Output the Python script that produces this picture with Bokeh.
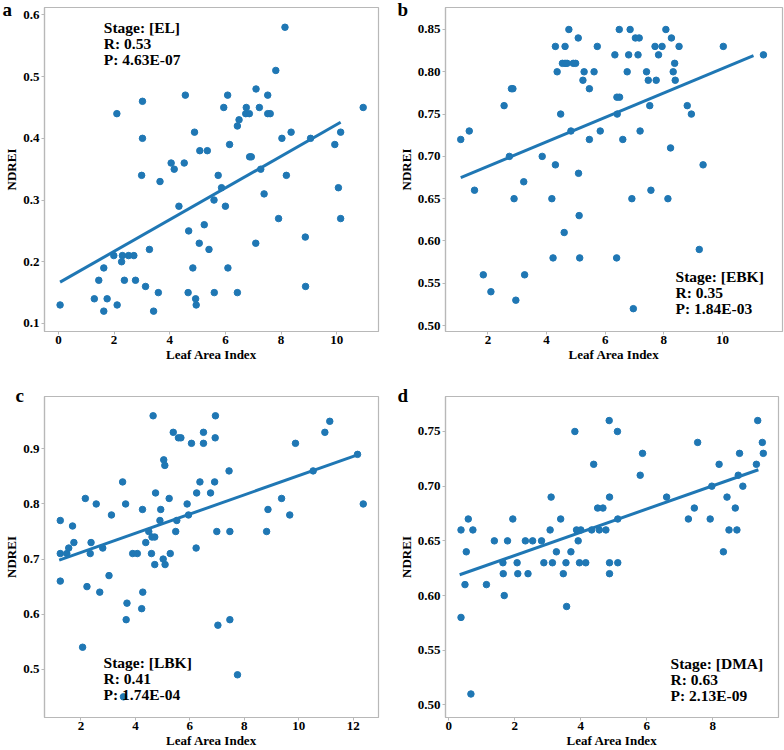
from bokeh.plotting import figure
from bokeh.layouts import column, row
from bokeh.models import Range1d, FixedTicker, Label, Title
from bokeh.embed import file_html
from bokeh.resources import INLINE

# ---------------- data ----------------
# Panel a: Stage EL
a_lai = [0.06, 1.29, 1.45, 1.63, 1.63, 1.75, 1.99, 2.10, 2.11, 2.27, 2.30, 2.37, 2.52, 2.71,
         2.77, 2.99, 3.02, 3.02, 3.13, 3.27, 3.42, 3.59, 3.65, 4.05, 4.16, 4.33, 4.52, 4.56,
         4.66, 4.68, 4.83, 4.89, 4.93, 4.95, 5.06, 5.08, 5.24, 5.35, 5.41, 5.59, 5.60, 5.74,
         5.86, 5.94, 6.00, 6.08, 6.09, 6.15, 6.43, 6.43, 6.49, 6.75, 6.73, 6.86, 6.87, 6.93,
         7.10, 7.09, 7.22, 7.27, 7.39, 7.52, 7.52, 7.61, 7.81, 7.91, 8.03, 8.14, 8.19, 8.36,
         8.87, 8.88, 9.06, 9.93, 10.06, 10.14, 10.14, 10.95]
a_ndrei = [0.13, 0.14, 0.17, 0.19, 0.12, 0.14, 0.21, 0.44, 0.13, 0.20, 0.21, 0.17, 0.21, 0.21,
           0.17, 0.34, 0.46, 0.40, 0.16, 0.22, 0.12, 0.15, 0.33, 0.36, 0.35, 0.29, 0.36, 0.47,
           0.15, 0.25, 0.19, 0.41, 0.14, 0.13, 0.23, 0.38, 0.26, 0.38, 0.22, 0.30, 0.15, 0.34,
           0.32, 0.45, 0.29, 0.47, 0.19, 0.39, 0.42, 0.15, 0.43, 0.45, 0.44, 0.44, 0.37, 0.37,
           0.48, 0.23, 0.45, 0.35, 0.31, 0.47, 0.44, 0.44, 0.51, 0.27, 0.40, 0.58, 0.34, 0.41,
           0.24, 0.16, 0.40, 0.39, 0.32, 0.41, 0.27, 0.45]
a_fit_x = [0.06, 10.14]
a_fit_y = [0.167, 0.426]

# Panel b: Stage EBK
b_lai = [1.07, 1.36, 1.54, 1.84, 2.10, 2.55, 2.73, 2.80, 2.85, 2.89, 2.95, 3.22, 3.25, 3.85,
         4.18, 4.22, 4.30, 4.30, 4.36, 4.48, 4.54, 4.60, 4.63, 4.63, 4.70, 4.76, 4.83, 4.91,
         4.99, 5.08, 5.09, 5.11, 5.13, 5.24, 5.28, 5.46, 5.46, 5.62, 5.73, 5.83, 6.33, 6.39,
         6.41, 6.40, 6.49, 6.48, 6.60, 6.75, 6.80, 6.85, 6.91, 6.96, 7.03, 7.12, 7.16, 7.19,
         7.41, 7.47, 7.52, 7.56, 7.70, 7.74, 7.82, 7.94, 8.07, 8.14, 8.23, 8.26, 8.32, 8.37,
         8.39, 8.52, 8.80, 8.94, 9.21, 9.34, 10.03, 11.40]
b_ndrei = [0.72, 0.73, 0.66, 0.56, 0.54, 0.76, 0.70, 0.78, 0.78, 0.65, 0.53, 0.67, 0.56, 0.70,
           0.65, 0.58, 0.69, 0.83, 0.80, 0.75, 0.81, 0.61, 0.83, 0.81, 0.81, 0.85, 0.73, 0.81,
           0.81, 0.84, 0.68, 0.63, 0.58, 0.79, 0.80, 0.78, 0.72, 0.80, 0.83, 0.73, 0.82, 0.58,
           0.75, 0.77, 0.77, 0.85, 0.72, 0.80, 0.82, 0.85, 0.65, 0.52, 0.84, 0.82, 0.84, 0.73,
           0.80, 0.79, 0.76, 0.66, 0.83, 0.79, 0.82, 0.83, 0.85, 0.65, 0.71, 0.84, 0.80, 0.81,
           0.79, 0.83, 0.76, 0.75, 0.59, 0.69, 0.83, 0.82]
b_fit_x = [1.07, 11.06]
b_fit_y = [0.675, 0.819]

# Panel c: Stage LBK
c_lai = [1.24, 1.24, 1.24, 1.48, 1.55, 1.69, 1.74, 2.06, 2.16, 2.22, 2.34, 2.37, 2.56, 2.69,
         2.80, 3.03, 3.12, 3.53, 3.56, 3.64, 3.66, 3.69, 3.90, 4.07, 4.23, 4.26, 4.27, 4.38,
         4.49, 4.59, 4.61, 4.65, 4.71, 4.71, 4.74, 4.90, 4.93, 5.02, 5.04, 5.08, 5.09, 5.24,
         5.28, 5.39, 5.48, 5.52, 5.58, 5.67, 5.90, 5.95, 6.06, 6.23, 6.25, 6.37, 6.50, 6.50,
         6.76, 6.91, 6.94, 6.93, 6.99, 7.03, 7.44, 7.47, 7.47, 7.75, 8.82, 8.87, 9.37, 9.67,
         9.88, 10.53, 10.96, 11.14, 12.16, 12.37]
c_ndrei = [0.77, 0.71, 0.66, 0.71, 0.72, 0.76, 0.73, 0.54, 0.81, 0.65, 0.71, 0.73, 0.80, 0.64,
           0.72, 0.67, 0.78, 0.84, 0.45, 0.80, 0.59, 0.62, 0.71, 0.71, 0.61, 0.79, 0.64, 0.73,
           0.75, 0.71, 0.74, 0.96, 0.74, 0.69, 0.82, 0.77, 0.79, 0.70, 0.88, 0.87, 0.69, 0.81,
           0.71, 0.93, 0.75, 0.77, 0.92, 0.92, 0.80, 0.78, 0.91, 0.72, 0.82, 0.84, 0.93, 0.91,
           0.82, 0.84, 0.96, 0.92, 0.75, 0.58, 0.86, 0.75, 0.59, 0.49, 0.75, 0.79, 0.81, 0.78,
           0.91, 0.86, 0.93, 0.95, 0.89, 0.80]
c_fit_x = [1.20, 12.16]
c_fit_y = [0.698, 0.889]

# Panel d: Stage DMA
d_lai = [0.37, 0.37, 0.49, 0.53, 0.59, 0.67, 0.73, 1.14, 1.38, 1.64, 1.65, 1.68, 1.78, 1.94,
         2.07, 2.09, 2.32, 2.40, 2.54, 2.81, 2.88, 3.07, 3.10, 3.14, 3.26, 3.39, 3.47, 3.55,
         3.57, 3.70, 3.82, 3.87, 3.92, 3.96, 4.00, 4.15, 4.33, 4.39, 4.51, 4.56, 4.67, 4.76,
         4.86, 4.87, 4.87, 4.87, 5.11, 5.12, 5.12, 5.80, 5.87, 6.60, 7.26, 7.44, 7.54, 7.92,
         7.97, 8.19, 8.32, 8.43, 8.49, 8.68, 8.73, 8.77, 8.81, 8.91, 9.32, 9.36, 9.50, 9.53]
d_ndrei = [0.66, 0.58, 0.61, 0.64, 0.67, 0.51, 0.66, 0.61, 0.65, 0.63, 0.62, 0.60, 0.65, 0.67,
           0.63, 0.62, 0.65, 0.62, 0.65, 0.65, 0.63, 0.66, 0.69, 0.63, 0.64, 0.67, 0.62, 0.63,
           0.59, 0.64, 0.75, 0.66, 0.65, 0.63, 0.66, 0.63, 0.66, 0.72, 0.68, 0.66, 0.68, 0.66,
           0.76, 0.69, 0.63, 0.62, 0.75, 0.67, 0.63, 0.71, 0.73, 0.69, 0.67, 0.68, 0.74, 0.67,
           0.70, 0.72, 0.64, 0.69, 0.66, 0.68, 0.66, 0.71, 0.73, 0.70, 0.72, 0.76, 0.74, 0.73]
d_fit_x = [0.33, 9.38]
d_fit_y = [0.619, 0.715]

# tick labels
a_xticks = [0, 2, 4, 6, 8, 10]
a_yticks = [0.1, 0.2, 0.3, 0.4, 0.5, 0.6]
a_ylabels = ["0.1", "0.2", "0.3", "0.4", "0.5", "0.6"]
b_xticks = [2, 4, 6, 8, 10]
b_yticks = [0.50, 0.55, 0.60, 0.65, 0.70, 0.75, 0.80, 0.85]
b_ylabels = ["0.50", "0.55", "0.60", "0.65", "0.70", "0.75", "0.80", "0.85"]
c_xticks = [2, 4, 6, 8, 10, 12]
c_yticks = [0.5, 0.6, 0.7, 0.8, 0.9]
c_ylabels = ["0.5", "0.6", "0.7", "0.8", "0.9"]
d_xticks = [0, 2, 4, 6, 8]
d_yticks = [0.50, 0.55, 0.60, 0.65, 0.70, 0.75]
d_ylabels = ["0.50", "0.55", "0.60", "0.65", "0.70", "0.75"]

stats = {
    "a": "Stage: [EL]\nR: 0.53\nP: 4.63E-07",
    "b": "Stage: [EBK]\nR: 0.35\nP: 1.84E-03",
    "c": "Stage: [LBK]\nR: 0.41\nP: 1.74E-04",
    "d": "Stage: [DMA]\nR: 0.63\nP: 2.13E-09",
}

BLUE = "#1f77b4"
GRAY = "#b8b8b8"
FONT = "Liberation Serif"


def letter_title(letter, offset, standoff, allow_fallback):
    kw = dict(text=letter, align="left", offset=offset, text_font=FONT,
              text_font_style="bold", text_font_size="19px", text_color="black")
    try:
        return Title(standoff=standoff, **kw)
    except Exception:
        if allow_fallback:
            return Title(standoff=0, **kw)
        return None


def make_panel(letter, xs, ys, fx, fy, xr, yr, xt, yt, ylabels, w, h,
               bl, br, bt, bb, txt_xy, title_offset, title_standoff, allow_fallback):
    p = figure(width=w, height=h, output_backend="svg", toolbar_location=None,
               x_range=Range1d(*xr), y_range=Range1d(*yr),
               min_border_left=bl, min_border_right=br,
               min_border_top=bt, min_border_bottom=bb)
    p.xgrid.visible = False
    p.ygrid.visible = False
    p.outline_line_color = GRAY
    p.outline_line_width = 1.2
    p.background_fill_color = "white"
    p.border_fill_color = "white"
    for ax in (p.xaxis[0], p.yaxis[0]):
        ax.axis_line_color = GRAY
        ax.axis_line_width = 1.2
        ax.major_tick_line_color = GRAY
        ax.major_tick_out = 3
        ax.major_tick_in = 0
        ax.minor_tick_line_color = None
        ax.major_label_text_font = FONT
        ax.major_label_text_font_style = "bold"
        ax.major_label_text_font_size = "13px"
        ax.major_label_text_color = "black"
        ax.axis_label_text_font = FONT
        ax.axis_label_text_font_style = "bold"
        ax.axis_label_text_font_size = "13px"
        ax.axis_label_text_color = "black"
        ax.major_label_standoff = 2
        ax.axis_label_standoff = 1
    p.xaxis[0].major_label_standoff = 1
    p.xaxis[0].axis_label_standoff = 0
    p.xaxis[0].ticker = FixedTicker(ticks=xt)
    p.yaxis[0].ticker = FixedTicker(ticks=yt)
    p.yaxis[0].major_label_overrides = {v: s for v, s in zip(yt, ylabels)}
    p.xaxis[0].axis_label = "Leaf Area Index"
    p.yaxis[0].axis_label = "NDREI"

    p.scatter(xs, ys, size=6.5, fill_color=BLUE, line_color=BLUE)
    p.line(fx, fy, line_width=3, line_color=BLUE)

    p.add_layout(Label(x=txt_xy[0], y=txt_xy[1], text=stats[letter],
                       text_font=FONT, text_font_style="bold", text_font_size="15.5px",
                       text_baseline="top", text_align="left", text_line_height=0.95,
                       text_color="black"))

    t = letter_title(letter, title_offset, title_standoff, allow_fallback)
    if t is not None:
        p.add_layout(t, "above")
    return p


W = 392
TOP_H, BOT_H = 375, 375

pa = make_panel("a", a_lai, a_ndrei, a_fit_x, a_fit_y, (-0.5, 11.5), (0.087, 0.612),
                a_xticks, a_yticks, a_ylabels, W, TOP_H, 44, 14, 7, 44,
                (1.63, 0.594), -42, -24, False)
pb = make_panel("b", b_lai, b_ndrei, b_fit_x, b_fit_y, (0.55, 12.05), (0.493, 0.876),
                b_xticks, b_yticks, b_ylabels, W, TOP_H, 53, 2, 7, 43,
                (8.40, 0.5685), -48, -24, False)
pc = make_panel("c", c_lai, c_ndrei, c_fit_x, c_fit_y, (0.66, 12.93), (0.4125, 0.995),
                c_xticks, c_yticks, c_ylabels, W, BOT_H, 44, 14, 21, 30,
                (2.83, 0.528), -29, -18, True)
pd_ = make_panel("d", d_lai, d_ndrei, d_fit_x, d_fit_y, (-0.10, 9.99), (0.4885, 0.782),
                 d_xticks, d_yticks, d_ylabels, W, BOT_H, 53, 6, 21, 30,
                 (6.72, 0.5455), -48, -18, True)

layout = column(row(pa, pb), row(pc, pd_))
open("out.html", "w").write(file_html(layout, INLINE))
